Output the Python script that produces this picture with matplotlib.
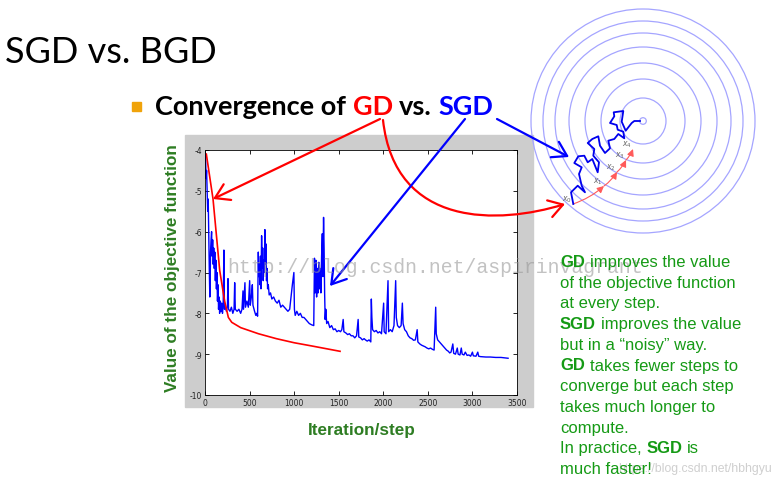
import matplotlib
matplotlib.use('Agg')
import matplotlib.pyplot as plt
from matplotlib.patches import Rectangle, Circle, FancyArrowPatch
from matplotlib.path import Path

plt.rcParams['axes.unicode_minus'] = False

# SGD: objective value vs iteration
sgd_iter = [0, 6, 12, 18, 24, 30, 36, 42, 48, 54, 58, 62, 68, 74, 80, 86, 92, 98, 104, 110,
            116, 122, 128, 134, 140, 146, 152, 158, 164, 172, 180, 188, 196, 204, 212, 218, 228, 240, 252, 258,
            264, 280, 296, 312, 326, 333, 340, 360, 380, 400, 415, 426, 432, 448, 454, 470, 486, 501, 508, 520,
            531, 538, 556, 570, 580, 590, 598, 604, 610, 616, 622, 628, 635, 641, 647, 653, 659, 665, 672, 678,
            684, 690, 696, 702, 710, 720, 735, 750, 770, 790, 810, 830, 850, 870, 890, 910, 930, 950, 965, 980,
            997, 1003, 1012, 1030, 1050, 1070, 1090, 1110, 1130, 1150, 1170, 1195, 1220, 1228, 1236, 1244, 1252, 1260, 1268, 1276,
            1284, 1292, 1300, 1308, 1316, 1322, 1330, 1336, 1342, 1348, 1355, 1365, 1380, 1400, 1420, 1440, 1460, 1480, 1500, 1520,
            1535, 1550, 1558, 1580, 1600, 1620, 1640, 1660, 1680, 1700, 1718, 1725, 1745, 1765, 1785, 1800, 1820, 1840, 1860, 1866,
            1872, 1880, 1900, 1920, 1940, 1960, 1980, 2004, 2010, 2030, 2053, 2060, 2080, 2100, 2120, 2139, 2146, 2160, 2180, 2200,
            2214, 2222, 2240, 2260, 2280, 2300, 2320, 2340, 2360, 2380, 2388, 2410, 2430, 2450, 2470, 2490, 2510, 2530, 2550, 2570,
            2588, 2594, 2610, 2630, 2650, 2670, 2690, 2710, 2730, 2745, 2760, 2780, 2790, 2810, 2830, 2840, 2860, 2875, 2885, 2905,
            2920, 2940, 2960, 2980, 3000, 3010, 3040, 3060, 3070, 3090, 3150, 3200, 3260, 3320, 3400]
sgd_value = [-4.15, -4.1, -4.7, -4.5, -5.0, -5.5, -5.2, -6.1, -6.9, -7.6, -7.2, -6.5, -6.2, -6.0, -6.6, -6.2, -6.8, -6.4, -6.9, -6.5,
             -7.2, -6.7, -7.4, -7.0, -7.7, -7.3, -7.9, -7.6, -8.0, -7.7, -7.95, -7.75, -8.0, -7.8, -6.45, -7.9, -7.85, -7.95, -7.8, -7.15,
             -7.9, -7.95, -7.85, -8.0, -7.9, -7.25, -7.9, -7.95, -7.9, -8.0, -7.9, -7.45, -7.9, -7.25, -7.85, -7.7, -7.85, -7.2, -7.8, -7.6,
             -7.3, -7.8, -7.95, -8.05, -8.0, -8.07, -6.5, -7.1, -6.8, -7.3, -6.6, -7.4, -6.1, -6.9, -6.4, -7.2, -6.7, -7.0, -5.95, -6.8,
             -6.3, -7.2, -6.9, -7.4, -7.3, -7.55, -7.5, -7.65, -7.6, -7.7, -7.75, -7.68, -7.85, -7.8, -7.85, -7.9, -7.95, -7.9, -7.6, -7.3,
             -7.0, -7.9, -8.05, -7.95, -8.05, -8.0, -8.1, -8.1, -8.15, -8.2, -8.25, -8.28, -8.3, -6.65, -7.5, -6.7, -7.6, -6.9, -7.5, -6.75,
             -7.4, -6.9, -7.5, -6.6, -6.05, -7.1, -5.65, -6.4, -7.5, -8.15, -7.9, -8.25, -8.2, -8.35, -8.3, -8.4, -8.38, -8.45, -8.42, -8.45,
             -8.4, -8.15, -8.45, -8.48, -8.52, -8.5, -8.55, -8.55, -8.6, -8.55, -8.15, -8.58, -8.6, -8.65, -8.62, -8.65, -8.68, -8.65, -8.7, -7.65,
             -8.1, -8.4, -8.45, -8.42, -8.48, -8.45, -8.5, -7.75, -8.45, -8.5, -7.2, -8.45, -8.4, -8.45, -8.3, -7.2, -8.1, -8.3, -8.35, -8.3,
             -7.75, -8.25, -8.4, -8.45, -8.55, -8.6, -8.62, -8.66, -8.65, -8.4, -8.7, -8.75, -8.78, -8.8, -8.82, -8.85, -8.87, -8.85, -8.88, -8.9,
             -7.85, -8.5, -8.65, -8.7, -8.75, -8.8, -8.85, -8.9, -8.93, -8.97, -8.95, -8.75, -8.98, -9.0, -8.85, -9.0, -9.02, -8.85, -9.0, -9.02,
             -8.95, -9.03, -9.02, -9.05, -8.95, -9.04, -9.05, -8.95, -9.05, -9.06, -9.07, -9.07, -9.08, -9.08, -9.1]

# GD: objective value vs iteration
gd_iter = [15, 90, 165, 220, 262, 300, 400, 600, 800, 1000, 1200, 1515]
gd_value = [-4.1, -5.2, -6.95, -7.7, -8.1, -8.22, -8.35, -8.5, -8.62, -8.72, -8.8, -8.93]

x_ticks = [0, 500, 1000, 1500, 2000, 2500, 3000, 3500]
y_ticks = [-10, -9, -8, -7, -6, -5, -4]

# contour sketch (pixel units of the slide)
contour_center = (643, 122)
contour_radii = [3.3, 23, 42, 58, 74, 88, 100, 112]
sgd_path_x = [573.3, 571, 577.7, 585, 581.7, 579, 581.7, 574.3, 578.3, 584.3, 587.7, 592.3, 597.7, 599,
              593.3, 594.3, 587.7, 592.3, 598.3, 600, 605, 610, 608.3, 614.3, 618.3, 624.3, 623.3, 617.7,
              616.7, 610, 614.3, 613.7, 623.3, 621.7, 625.7, 631.7, 634.3, 640]
sgd_path_y = [205, 193.3, 186.7, 193.3, 186.7, 175, 168.3, 164, 157.3, 156.7, 163.3, 160, 173.3, 163.3,
              156.7, 150, 144, 140, 137.3, 146.7, 154, 149.3, 141.7, 140, 135, 139.3, 132.7, 130.7,
              126, 124, 117.3, 113.3, 112, 122.7, 131.7, 124, 122, 122]
gd_step_x = [573, 604, 617, 626, 633]
gd_step_y = [205, 187, 173, 161, 150]
gd_step_labels = ['$x_0$', '$x_1$', '$x_2$', '$x_3$', '$x_4$']

W, H = 781, 489
fig = plt.figure(figsize=(W / 100, H / 100), dpi=100)


def px_rect(l, t, r, b):
    return [l / W, 1 - b / H, (r - l) / W, (b - t) / H]


def overlay(label, z):
    a = fig.add_axes([0, 0, 1, 1], label=label, zorder=z)
    a.set_xlim(0, W)
    a.set_ylim(H, 0)
    a.axis('off')
    a.patch.set_alpha(0)
    return a


back = overlay('back', 0)
back.add_patch(Rectangle((185, 136), 348, 272, color='#cdcdcd'))

# the convergence plot
ax = fig.add_axes(px_rect(205, 151, 517, 396), zorder=1)
ax.plot(sgd_iter, sgd_value, color='#0000ff', lw=1.0)
ax.plot(gd_iter, gd_value, color='#ff0000', lw=1.2)
ax.set_xlim(0, 3500)
ax.set_ylim(-10, -4)
ax.set_xticks(x_ticks)
ax.set_yticks(y_ticks)
ax.tick_params(direction='in', length=3, width=0.6, labelsize=5.5, top=True, right=True,
               pad=2, labelcolor='#222222')
for s in ax.spines.values():
    s.set_linewidth(0.6)

top = overlay('top', 2)
renderer = fig.canvas.get_renderer()


def text_width(s, **kw):
    t = top.text(0, 0, s, **kw)
    bb = t.get_window_extent(renderer=renderer)
    t.remove()
    return bb.width


def runs(x, y, pieces, **kw):
    space = text_width('a a', **kw) - text_width('aa', **kw)
    for s, props in pieces:
        t = top.text(x, y, s, va='baseline', ha='left', **kw, **props)
        bb = t.get_window_extent(renderer=renderer)
        x = top.transData.inverted().transform((bb.x1, bb.y0))[0] + space


# headings
top.text(5, 63, 'SGD vs. BGD', fontsize=26, family='Lato', fontweight='normal',
         va='baseline', color='black')
top.add_patch(Rectangle((132, 103), 9, 9, color='#f0a30a'))
runs(155, 115, [('Convergence of', {'color': 'black'}), ('GD', {'color': '#ff0000'}),
                ('vs.', {'color': 'black'}), ('SGD', {'color': '#0000ff'})],
     fontsize=19.5, family='Lato', fontweight='bold')

# axis labels
top.text(172, 268, 'Value of the objective function', rotation=90, ha='center', va='center',
         fontsize=12.3, family='Liberation Sans', fontweight='bold', color='#2e7d23')
top.text(362, 430, 'Iteration/step', ha='center', va='center',
         fontsize=12.3, family='Liberation Sans', fontweight='bold', color='#2e7d23')

# contour sketch
for r in contour_radii:
    top.add_patch(Circle(contour_center, r, fill=False, ec='#a5a5ff', lw=0.9))
top.plot(sgd_path_x, sgd_path_y, color='#0000ee', lw=1.3)
for i in range(len(gd_step_x) - 1):
    top.add_patch(FancyArrowPatch((gd_step_x[i], gd_step_y[i]), (gd_step_x[i + 1], gd_step_y[i + 1]),
                                  connectionstyle='arc3,rad=0.1', arrowstyle='-|>,head_length=0.5,head_width=0.25',
                                  mutation_scale=8, color='#ff5a5a', lw=0.8, shrinkA=0, shrinkB=0))
for xs, ys, lab in zip(gd_step_x, gd_step_y, gd_step_labels):
    top.text(xs - 6, ys - 5, lab, fontsize=5.5, color='#666666', ha='center', va='center')

# notes
green = '#159a15'
B = {'fontweight': 'bold'}
N = {'fontweight': 'normal'}
note_lines = [
    [('GD', B), ('improves the value', N)],
    [('of the objective function', N)],
    [('at every step.', N)],
    [('SGD', B), ('improves the value', N)],
    [('but in a \u201cnoisy\u201d way.', N)],
    [('GD', B), ('takes fewer steps to', N)],
    [('converge but each step', N)],
    [('takes much longer to', N)],
    [('compute.', N)],
    [('In practice,', N), ('SGD', B), ('is', N)],
    [('much faster!', N)],
]

# watermarks (they sit under the notes in the slide too)
top.text(227, 273, 'http://blog.csdn.net/aspirinvagrant', family='Liberation Mono', fontsize=14.2,
         color='#9a9a9a', alpha=0.6, va='baseline')
top.text(772, 472, 'https://blog.csdn.net/hbhgyu', family='Liberation Sans', fontsize=8.8,
         color='#cfcfcf', ha='right', va='baseline')

for i, line in enumerate(note_lines):
    runs(560, 267 + 20.7 * i, line, fontsize=12, family='Liberation Sans', color=green)

# arrows
arrow_kw = dict(arrowstyle='->,head_length=0.4,head_width=0.25', mutation_scale=25,
                lw=1.6, shrinkA=0, shrinkB=0)
top.add_patch(FancyArrowPatch((380, 120), (213, 200), color='#ff0000', **arrow_kw))
curve = Path([(383, 121), (395, 230), (500, 225), (565, 205)],
             [Path.MOVETO, Path.CURVE4, Path.CURVE4, Path.CURVE4])
top.add_patch(FancyArrowPatch(path=curve, color='#ff0000', **arrow_kw))
top.add_patch(FancyArrowPatch((465, 120), (330, 287), color='#0000ff', **arrow_kw))
top.add_patch(FancyArrowPatch((497, 120), (569, 158), color='#0000ff', **arrow_kw))

fig.savefig('out.png', dpi=100)
